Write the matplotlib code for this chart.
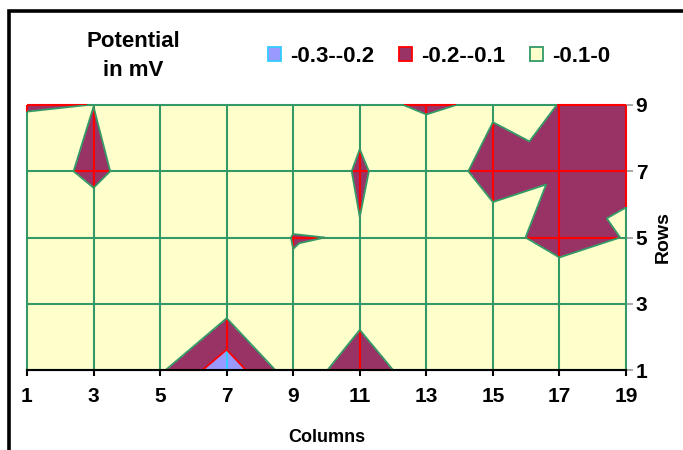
import numpy as np
import matplotlib
matplotlib.use('Agg')
import matplotlib.pyplot as plt
import matplotlib.tri as mtri
from matplotlib.collections import LineCollection
from matplotlib.patches import Patch, Rectangle

plt.rcParams['font.family'] = ['Liberation Sans', 'DejaVu Sans']
plt.rcParams['font.weight'] = 'bold'

# grid of the sheet: columns 1..19 and rows 1..9 (every other one)
columns = [1, 3, 5, 7, 9, 11, 13, 15, 17, 19]
rows = [1, 3, 5, 7, 9]

# potential in mV, one list per row
row1 = [-0.04, -0.05, -0.085, -0.265, -0.039, -0.1575, -0.0425, -0.04, -0.03, -0.04]
row3 = [-0.04, -0.03, -0.04, -0.054, -0.0827, -0.0625, -0.04, -0.03, -0.007, -0.05]
row5 = [-0.03, -0.042, -0.03, -0.002, -0.1036, -0.096, -0.05, -0.0616, -0.14, -0.0961]
row7 = [-0.055, -0.1193, -0.042, -0.03, -0.035, -0.109, -0.043, -0.1334, -0.1096, -0.1047]
row9 = [-0.105, -0.0995, -0.06, -0.04, -0.05, -0.082, -0.1095, -0.0883, -0.1005, -0.11]

levels = [-0.3, -0.2, -0.1, 0.0]
band_labels = ['-0.3--0.2', '-0.2--0.1', '-0.1-0']
fill_colors = ['#9999FF', '#993366', '#FFFFCC']
edge_colors = ['#33CCFF', '#FF0000', '#339966']

Z = np.array([row1, row3, row5, row7, row9])
X, Y = np.meshgrid(columns, rows)
nx, ny = len(columns), len(rows)
zf = Z.ravel()

# split every cell in two triangles, along the diagonal with the higher sum
tris = []
for j in range(ny - 1):
    for i in range(nx - 1):
        bl = j * nx + i
        br = bl + 1
        tl = bl + nx
        tr = tl + 1
        if zf[bl] + zf[tr] >= zf[tl] + zf[br]:
            tris += [[bl, br, tr], [bl, tr, tl]]
        else:
            tris += [[bl, br, tl], [br, tr, tl]]
tri = mtri.Triangulation(X.ravel(), Y.ravel(), np.array(tris))

fig = plt.figure(figsize=(6.83, 4.5), dpi=100)
ax = fig.add_axes([27/683, 1-370/450, (626-27)/683, (370-105)/450])

ax.tricontourf(tri, zf, levels=levels, colors=fill_colors, zorder=1)


def band_color(v):
    k = np.clip(np.digitize(v, levels) - 1, 0, 2)
    return [edge_colors[n] for n in k]


# mesh lines take the border colour of the band they run through
segs, cols = [], []
t = np.linspace(0, 1, 400)
for i, x in enumerate(columns):
    yy = rows[0] + t * (rows[-1] - rows[0])
    zz = np.interp(yy, rows, Z[:, i])
    pts = np.column_stack([np.full_like(yy, x), yy])
    segs += [pts[k:k+2] for k in range(len(pts) - 1)]
    cols += band_color((zz[:-1] + zz[1:]) / 2)
for j, y in enumerate(rows):
    xx = columns[0] + t * (columns[-1] - columns[0])
    zz = np.interp(xx, columns, Z[j])
    pts = np.column_stack([xx, np.full_like(xx, y)])
    segs += [pts[k:k+2] for k in range(len(pts) - 1)]
    cols += band_color((zz[:-1] + zz[1:]) / 2)
ax.add_collection(LineCollection(segs, colors=cols, linewidths=1.5,
                                 zorder=2, clip_on=False))

ax.tricontour(tri, zf, levels=[-0.1], colors=edge_colors[2], linewidths=1.3,
              linestyles='solid', zorder=3)
ax.tricontour(tri, zf, levels=[-0.2], colors=edge_colors[1], linewidths=1.3,
              linestyles='solid', zorder=3)

ax.set_xlim(1, 19)
ax.set_ylim(1, 9)
for s in ['left', 'top', 'right']:
    ax.spines[s].set_visible(False)
ax.spines['bottom'].set_linewidth(1.5)
ax.spines['bottom'].set_zorder(4)

ax.set_xticks(columns)
ax.set_yticks(rows)
ax.tick_params(axis='x', direction='out', length=4.5, width=1.5, color='black',
               labelsize=15, pad=8)
ax.yaxis.tick_right()
ax.yaxis.set_label_position('right')
ax.tick_params(axis='y', direction='out', length=5, width=1.2, color='#999999',
               labelsize=15, pad=2)
ax.set_xlabel('Columns', fontsize=13, fontweight='bold', labelpad=16)
ax.set_ylabel('Rows', fontsize=14, fontweight='bold', labelpad=5)

fig.text(133/683, 1-56/450, 'Potential\nin mV', ha='center', va='center',
         fontsize=16, fontweight='bold', linespacing=1.45)

handles = [Patch(facecolor=f, edgecolor=e, linewidth=1.3)
           for f, e in zip(fill_colors, edge_colors)]
fig.legend(handles, band_labels, loc='center', bbox_to_anchor=(439/683, 1-56/450),
           ncol=3, frameon=False, handlelength=0.6, handleheight=0.6,
           handletextpad=0.4, columnspacing=1.1, prop={'size': 16, 'weight': 'bold'})

# chart area border (only top and left are inside the picture)
fig.add_artist(Rectangle((8.5/683, -0.2), 2, 1.2 - 11/450, fill=False,
                         linewidth=2.6, edgecolor='black',
                         transform=fig.transFigure))

fig.savefig('out.png', dpi=100)
